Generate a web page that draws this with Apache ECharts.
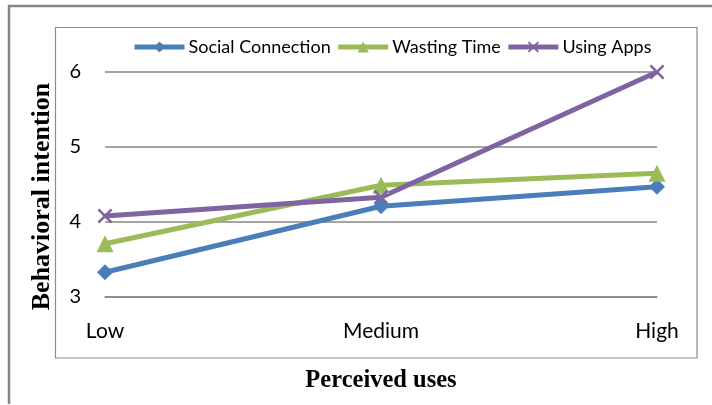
<!DOCTYPE html>
<html>
<head>
<meta charset="utf-8">
<script src="https://cdn.jsdelivr.net/npm/echarts@6/dist/echarts.min.js"></script>
<style>
  html, body { margin: 0; padding: 0; background: #fff; }
  #chart { width: 712px; height: 405px; }
</style>
</head>
<body>
<div id="chart"></div>
<script>
// Perceived uses levels on the x axis
const categories = ['Low', 'Medium', 'High'];

// Behavioral intention per group
const socialConnection = [3.33, 4.21, 4.47];
const wastingTime = [3.71, 4.49, 4.65];
const usingApps = [4.08, 4.33, 6.0];

// Value axis range
const yMin = 3;
const yMax = 6;
const yStep = 1;

const chart = echarts.init(document.getElementById('chart'), null, { renderer: 'canvas' });

const labelFont = 'Lato, "Open Sans", sans-serif';
const titleFont = '"Liberation Serif", "Times New Roman", serif';

// Thin "x" cross glyph for the third series
const crossSymbol = 'path://M0,1.2L1.2,0L10,8.8L8.8,10Z M8.8,0L10,1.2L1.2,10L0,8.8Z';

function lineSeries(name, data, color, symbol, size) {
  return {
    name: name,
    type: 'line',
    data: data,
    symbol: symbol,
    symbolSize: size,
    showAllSymbol: true,
    lineStyle: { color: color, width: 5 },
    itemStyle: { color: color },
    emphasis: { disabled: true },
    animation: false
  };
}

chart.setOption({
  backgroundColor: '#fff',
  animation: false,
  graphic: [
    // outer chart frame (top and left edges)
    {
      type: 'polyline',
      shape: { points: [[9, 404], [9, 6], [712, 6]] },
      style: { stroke: '#868686', lineWidth: 2.5, fill: null },
      silent: true
    },
    // plot area frame
    {
      type: 'rect',
      shape: { x: 55.5, y: 27.5, width: 641.5, height: 330.5 },
      style: { stroke: '#8c8c8c', lineWidth: 1.2, fill: null },
      silent: true
    }
  ],
  legend: {
    top: 33,
    left: 127,
    itemWidth: 50,
    itemHeight: 14,
    itemGap: 5,
    lineStyle: { width: 5 },
    textStyle: { fontFamily: labelFont, fontSize: 18, color: '#000', padding: [0, 0, 0, -1] },
    data: ['Social Connection', 'Wasting Time', 'Using Apps']
  },
  grid: { left: 105, right: 55, top: 72, bottom: 108, containLabel: false },
  xAxis: {
    type: 'category',
    data: categories,
    boundaryGap: false,
    axisLine: { lineStyle: { color: '#868686', width: 1.5 } },
    axisTick: { show: false },
    axisLabel: { fontFamily: labelFont, fontSize: 21, color: '#000', margin: 24 },
    name: 'Perceived uses',
    nameLocation: 'middle',
    nameGap: 71,
    nameTextStyle: { fontFamily: titleFont, fontSize: 24.5, fontWeight: 'bold', color: '#000' }
  },
  yAxis: {
    type: 'value',
    min: yMin,
    max: yMax,
    interval: yStep,
    axisLine: { show: false },
    axisTick: { show: false },
    splitLine: { lineStyle: { color: '#868686', width: 1.5 } },
    axisLabel: { fontFamily: labelFont, fontSize: 20, color: '#000', margin: 24 },
    name: 'Behavioral intention',
    nameLocation: 'middle',
    nameRotate: 90,
    nameGap: 50,
    nameTextStyle: {
      fontFamily: titleFont, fontSize: 26, fontWeight: 'bold', color: '#000',
      padding: [0, 24, 0, 0]
    }
  },
  series: [
    lineSeries('Social Connection', socialConnection, '#4A7EBB', 'diamond', 16),
    lineSeries('Wasting Time', wastingTime, '#9BBB59', 'triangle', 17),
    lineSeries('Using Apps', usingApps, '#8064A2', crossSymbol, 15)
  ]
});
</script>
</body>
</html>
